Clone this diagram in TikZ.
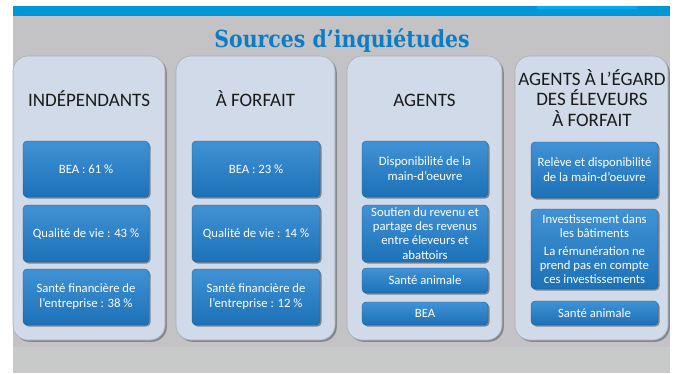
\documentclass[tikz,border=0pt]{standalone}
\usepackage{fontspec}
\setmainfont{Carlito}
\newfontfamily\titlefont{DejaVu Serif}
\usetikzlibrary{shadows}
\definecolor{bggray}{HTML}{C3C3C5}
\definecolor{bggray2}{HTML}{C8CACA}
\definecolor{barblue}{HTML}{0096D8}
\definecolor{barlight}{HTML}{00AEEF}
\definecolor{titleblue}{HTML}{0A7DC6}
\definecolor{panelfill}{HTML}{D0DAE8}
\definecolor{panelline}{HTML}{A9AFB8}
\definecolor{panelshadow}{HTML}{7F8186}
\definecolor{boxtop}{HTML}{4192D5}
\definecolor{boxbot}{HTML}{1C71B7}
\definecolor{boxshadow}{HTML}{7A7D82}
\definecolor{headtext}{HTML}{1A1A1A}
\begin{document}
\begin{tikzpicture}[x=1pt,y=-1pt,
  panel/.style={draw=panelline, line width=0.6pt, fill=panelfill, rounded corners=15pt,
    drop shadow={shadow xshift=1.8pt, shadow yshift=-1.8pt, fill=panelshadow, opacity=0.9}},
  item/.style={rounded corners=4pt, top color=boxtop, bottom color=boxbot, draw=boxbot!80!black, line width=0.3pt,
    drop shadow={shadow xshift=1.5pt, shadow yshift=-1.5pt, fill=boxshadow, opacity=0.9},
    text=white, font=\fontsize{12.7}{14.8}\selectfont, align=center, inner sep=0pt, minimum width=126pt},
  head/.style={text=headtext, font=\fontsize{19}{20.5}\selectfont, align=center, inner sep=0pt},
  titlestyle/.style={text=titleblue, font=\titlefont\bfseries\fontsize{23.5}{26}\selectfont, inner sep=0pt}]
\useasboundingbox (0,0) rectangle (678,373);
\fill[white] (0,0) rectangle (678,373);
\fill[bggray] (13,16) rectangle (670,373);
\fill[bggray2] (13,347) rectangle (670,373);
\fill[barblue] (13,6) rectangle (670,16);
\fill[barlight] (537,6) rectangle (637,8.5);

\node[titlestyle, anchor=base] (title) at (342,47) {\scalebox{0.87}[1]{Sources d’inquiétudes}};

% panels
\draw[panel] (13,56) rectangle (165,340);
\draw[panel] (176,56) rectangle (335,340);
\draw[panel] (347,56) rectangle (502,340);
\draw[panel] (515,56) rectangle (668,340);

% headers
\node[head] (h1) at (89,99) {INDÉPENDANTS};
\node[head] (h2) at (255.5,99) {À FORFAIT};
\node[head] (h3) at (424.5,100) {AGENTS};
\node[head] (h4) at (592,98) {AGENTS À L’ÉGARD\\DES ÉLEVEURS\\À FORFAIT};

% panel 1
\node[item, minimum height=56pt] (a1) at (86,169) {BEA : 61 \%};
\node[item, minimum height=57pt] (a2) at (86,233.5) {Qualité de vie : 43 \%};
\node[item, minimum height=56pt] (a3) at (86,297) {Santé financière de\\l’entreprise : 38 \%};

% panel 2
\node[item, minimum width=128pt, minimum height=56pt] (b1) at (256,169) {BEA : 23 \%};
\node[item, minimum width=128pt, minimum height=57pt] (b2) at (256,233.5) {Qualité de vie : 14 \%};
\node[item, minimum width=128pt, minimum height=56pt] (b3) at (256,297) {Santé financière de\\l’entreprise : 12 \%};

% panel 3
\node[item, minimum height=56pt] (c1) at (425,169) {Disponibilité de la\\main-d’oeuvre};
\node[item, minimum height=57pt, font=\fontsize{12.7}{14.2}\selectfont] (c2) at (425,233.5) {Soutien du revenu et\\partage des revenus\\entre éleveurs et\\abattoirs};
\node[item, minimum height=25pt] (c3) at (425,280.5) {Santé animale};
\node[item, minimum height=23pt] (c4) at (425,313.5) {BEA};

% panel 4
\node[item, minimum height=56pt, minimum width=127pt] (d1) at (594.5,170) {Relève et disponibilité\\de la main-d’oeuvre};
\node[item, minimum height=80pt, minimum width=127pt, font=\fontsize{12.7}{13.8}\selectfont] (d2) at (594.5,249) {Investissement dans\\les bâtiments\\[5pt]La rémunération ne\\prend pas en compte\\ces investissements};
\node[item, minimum height=24pt, minimum width=127pt] (d3) at (594.5,313) {Santé animale};
\end{tikzpicture}
\end{document}
